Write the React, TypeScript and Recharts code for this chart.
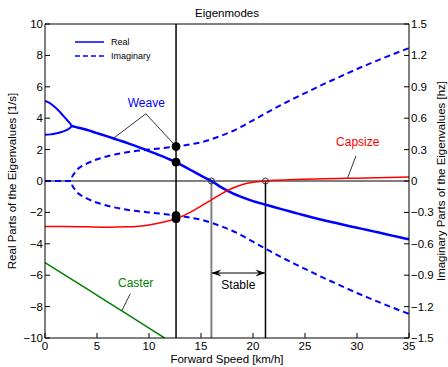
import {
  ComposedChart,
  Line,
  XAxis,
  YAxis,
  ReferenceLine,
  ReferenceDot,
  Legend,
} from 'recharts';

const speedTicks = [0, 5, 10, 15, 20, 25, 30, 35];
const realTicks = [-10, -8, -6, -4, -2, 0, 2, 4, 6, 8, 10];
const imagTicks = [-1.5, -1.2, -0.9, -0.6, -0.3, 0, 0.3, 0.6, 0.9, 1.2, 1.5];

// weave, real part: two real roots before they merge (~2.6 km/h)
const weaveSplitSpeeds = [0, 0.5, 1, 1.5, 2, 2.3, 2.45, 2.56];
const weaveSplitUpper = [5.1, 4.95, 4.68, 4.35, 3.97, 3.75, 3.63, 3.5];
const weaveSplitLower = [2.95, 2.97, 3.03, 3.1, 3.22, 3.33, 3.4, 3.5];

const weaveSpeeds = [2.56, 3, 4, 5, 6, 7, 8, 9, 10, 11, 12, 12.6, 13, 14, 15, 16, 17, 18, 19, 20, 21, 22, 23, 24, 25, 26, 27, 28, 29, 30, 31, 32, 33, 34, 35];
const weaveReal = [3.5, 3.43, 3.26, 3.05, 2.84, 2.62, 2.4, 2.16, 1.91, 1.65, 1.37, 1.2, 1.06, 0.7, 0.34, 0, -0.42, -0.77, -1.04, -1.28, -1.47, -1.66, -1.84, -2.02, -2.2, -2.37, -2.53, -2.68, -2.83, -2.98, -3.12, -3.27, -3.42, -3.57, -3.72];

// weave, imaginary part [hz] (the lower branch is its conjugate)
const imagSpeeds = [0, 1, 2, 2.56, 2.62, 2.8, 3.05, 3.5, 4, 4.65, 5.5, 6.57, 7.5, 8.5, 10, 11, 12, 12.6, 13, 14, 15, 16, 17, 18, 19, 20, 21, 22, 23, 24, 25, 26, 27, 28, 29, 30, 31, 32, 33, 34, 35];
const weaveImag = [0, 0, 0, 0, 0.04, 0.07, 0.105, 0.14, 0.165, 0.195, 0.222, 0.25, 0.268, 0.283, 0.3, 0.31, 0.322, 0.33, 0.335, 0.35, 0.37, 0.4, 0.435, 0.475, 0.525, 0.58, 0.635, 0.69, 0.742, 0.792, 0.84, 0.888, 0.935, 0.98, 1.025, 1.07, 1.112, 1.153, 1.193, 1.232, 1.27];

const capsizeSpeeds = [0, 2, 4, 6, 8, 9, 10, 11, 12, 12.6, 13, 14, 15, 16, 17, 18, 19, 20, 21.2, 22, 23, 25, 27, 30, 33, 35];
const capsizeReal = [-2.9, -2.9, -2.92, -2.94, -2.92, -2.88, -2.8, -2.68, -2.52, -2.4, -2.3, -1.98, -1.6, -1.2, -0.8, -0.46, -0.22, -0.08, 0, 0.04, 0.07, 0.11, 0.14, 0.18, 0.22, 0.25];

const casterSpeeds = [0, 2, 4, 6, 8, 10, 11.5];
const casterReal = [-5.2, -6.03, -6.86, -7.7, -8.53, -9.37, -10];

// marked speeds
const markSpeed = 12.6;
const markWeaveReal = 1.2;
const markWeaveImag = 0.33;
const markCapsize = -2.4;
const weaveSpeed = 16.0;
const capsizeSpeed = 21.2;

const pts = (xs: number[], ys: number[]) => xs.map((x, i) => ({ x, y: ys[i] }));

const weaveUpperPts = pts(weaveSplitSpeeds, weaveSplitUpper);
const weaveLowerPts = pts(weaveSplitSpeeds, weaveSplitLower);
const weavePts = pts(weaveSpeeds, weaveReal);
const imagUpPts = pts(imagSpeeds, weaveImag);
const imagDownPts = pts(imagSpeeds, weaveImag.map((v) => -v));
const capsizePts = pts(capsizeSpeeds, capsizeReal);
const casterPts = pts(casterSpeeds, casterReal);

const BLUE = '#0000ff';
const RED = '#ff0000';
const GREEN = '#008000';
const FS = 11.5;

const minus = (v: number, digits = 0) => (v === 0 ? '0' : v.toFixed(digits).replace('-', '\u2212'));

const textShape = (txt: string, color: string, size = 12) => (p: any) => (
  <text x={p.cx} y={p.cy} fill={color} fontSize={size} textAnchor="middle" dominantBaseline="central">
    {txt}
  </text>
);

const arrowHead = (dir: number) => (p: any) => {
  const { cx, cy } = p;
  const L = 10;
  const H = 3.5;
  return (
    <path
      d={`M${cx},${cy} L${cx - dir * L},${cy - H} L${cx - dir * L * 0.65},${cy} L${cx - dir * L},${cy + H} Z`}
      fill="#000"
    />
  );
};

const LegendBox = () => (
  <div style={{ fontSize: 9, lineHeight: '14px', color: '#000' }}>
    <div style={{ display: 'flex', alignItems: 'center' }}>
      <svg width={36} height={14}>
        <line x1={0} y1={7} x2={29} y2={7} stroke={BLUE} strokeWidth={1.5} />
      </svg>
      <span>Real</span>
    </div>
    <div style={{ display: 'flex', alignItems: 'center' }}>
      <svg width={36} height={14}>
        <line x1={0} y1={7} x2={29} y2={7} stroke={BLUE} strokeWidth={1.5} strokeDasharray="5 3" />
      </svg>
      <span>Imaginary</span>
    </div>
  </div>
);

export default function App() {
  return (
    <div style={{ position: 'absolute', left: 0, top: 0, fontFamily: '"Liberation Sans", Arial, sans-serif' }}>
      <ComposedChart width={448} height={367} margin={{ top: 0, right: 0, bottom: 0, left: 0 }}>
        <XAxis
          xAxisId="bottom"
          type="number"
          dataKey="x"
          domain={[0, 35]}
          ticks={speedTicks}
          allowDataOverflow
          height={29}
          tickSize={-5}
          tickMargin={9}
          stroke="#000"
          tick={{ fill: '#000', fontSize: FS }}
          label={(p: any) => (
            <text x={p.viewBox.x + p.viewBox.width / 2} y={363} textAnchor="middle" fontSize={FS} fill="#000">
              Forward Speed [km/h]
            </text>
          )}
        />
        <XAxis
          xAxisId="top"
          orientation="top"
          type="number"
          dataKey="x"
          domain={[0, 35]}
          ticks={speedTicks}
          height={24}
          tickSize={-5}
          tickFormatter={() => ''}
          stroke="#000"
          label={(p: any) => (
            <text x={p.viewBox.x + p.viewBox.width / 2} y={17} textAnchor="middle" fontSize={FS} fill="#000">
              Eigenmodes
            </text>
          )}
        />
        <YAxis
          yAxisId="left"
          type="number"
          domain={[-10, 10]}
          ticks={realTicks}
          allowDataOverflow
          width={45}
          tickSize={-5}
          tickMargin={7}
          stroke="#000"
          tick={{ fill: '#000', fontSize: FS }}
          tickFormatter={(v: number) => minus(v)}
          label={(p: any) => {
            const cy = p.viewBox.y + p.viewBox.height / 2;
            return (
              <text x={12} y={cy} transform={`rotate(-90 12 ${cy})`} textAnchor="middle" dominantBaseline="central" fontSize={FS} fill="#000">
                Real Parts of the Eigenvalues [1/s]
              </text>
            );
          }}
        />
        <YAxis
          yAxisId="right"
          orientation="right"
          type="number"
          domain={[-1.5, 1.5]}
          ticks={imagTicks}
          allowDataOverflow
          width={39}
          tickSize={-5}
          tickMargin={7}
          stroke="#000"
          tick={{ fill: '#000', fontSize: FS }}
          tickFormatter={(v: number) => minus(v, 1)}
          label={(p: any) => {
            const cy = p.viewBox.y + p.viewBox.height / 2;
            return (
              <text x={441} y={cy} transform={`rotate(-90 441 ${cy})`} textAnchor="middle" dominantBaseline="central" fontSize={FS} fill="#000">
                Imaginary Parts of the Eigenvalues [hz]
              </text>
            );
          }}
        />

        <Legend
          layout="vertical"
          align="center"
          verticalAlign="middle"
          content={() => <LegendBox />}
          wrapperStyle={{ left: 75, top: 35, width: 110 }}
        />

        {/* reference lines */}
        <ReferenceLine xAxisId="bottom" yAxisId="left" y={0} stroke="#000" strokeWidth={1} />
        <ReferenceLine xAxisId="bottom" yAxisId="left" x={markSpeed} stroke="#000" strokeWidth={1.5} />
        <ReferenceLine
          xAxisId="bottom"
          yAxisId="left"
          segment={[{ x: weaveSpeed, y: 0 }, { x: weaveSpeed, y: -10 }]}
          stroke="#808080"
          strokeWidth={2}
        />
        <ReferenceLine
          xAxisId="bottom"
          yAxisId="left"
          segment={[{ x: capsizeSpeed, y: 0 }, { x: capsizeSpeed, y: -10 }]}
          stroke="#000"
          strokeWidth={1.5}
        />

        {/* series */}
        <Line xAxisId="bottom" yAxisId="right" data={imagUpPts} dataKey="y" type="monotone" stroke={BLUE} strokeWidth={2} strokeDasharray="6 4" dot={false} isAnimationActive={false} />
        <Line xAxisId="bottom" yAxisId="right" data={imagDownPts} dataKey="y" type="monotone" stroke={BLUE} strokeWidth={2} strokeDasharray="6 4" dot={false} isAnimationActive={false} />
        <Line xAxisId="bottom" yAxisId="left" data={casterPts} dataKey="y" type="linear" stroke={GREEN} strokeWidth={1.5} dot={false} isAnimationActive={false} />
        <Line xAxisId="bottom" yAxisId="left" data={weaveUpperPts} dataKey="y" type="monotone" stroke={BLUE} strokeWidth={2} dot={false} isAnimationActive={false} />
        <Line xAxisId="bottom" yAxisId="left" data={weaveLowerPts} dataKey="y" type="monotone" stroke={BLUE} strokeWidth={2} dot={false} isAnimationActive={false} />
        <Line xAxisId="bottom" yAxisId="left" data={weavePts} dataKey="y" type="monotone" stroke={BLUE} strokeWidth={2.5} dot={false} isAnimationActive={false} />
        <Line xAxisId="bottom" yAxisId="left" data={capsizePts} dataKey="y" type="monotone" stroke={RED} strokeWidth={1.5} dot={false} isAnimationActive={false} />

        {/* annotations */}
        <ReferenceLine xAxisId="bottom" yAxisId="left" segment={[{ x: 6.6, y: 2.73 }, { x: 9.7, y: 4.28 }]} stroke="#000" strokeWidth={0.8} />
        <ReferenceLine xAxisId="bottom" yAxisId="left" segment={[{ x: 9.7, y: 4.28 }, { x: markSpeed, y: 2.2 }]} stroke="#000" strokeWidth={0.8} />
        <ReferenceLine xAxisId="bottom" yAxisId="left" segment={[{ x: 29.9, y: 1.6 }, { x: 29.1, y: 0.2 }]} stroke="#000" strokeWidth={0.8} />
        <ReferenceLine xAxisId="bottom" yAxisId="left" segment={[{ x: 8.2, y: -7.18 }, { x: 7.4, y: -8.24 }]} stroke="#000" strokeWidth={0.8} />
        <ReferenceLine xAxisId="bottom" yAxisId="left" segment={[{ x: weaveSpeed, y: -5.86 }, { x: capsizeSpeed, y: -5.86 }]} stroke="#555" strokeWidth={1.5} />
        <ReferenceDot xAxisId="bottom" yAxisId="left" x={weaveSpeed} y={-5.86} shape={arrowHead(-1)} />
        <ReferenceDot xAxisId="bottom" yAxisId="left" x={capsizeSpeed} y={-5.86} shape={arrowHead(1)} />

        <ReferenceDot xAxisId="bottom" yAxisId="left" x={9.74} y={4.94} shape={textShape('Weave', BLUE)} />
        <ReferenceDot xAxisId="bottom" yAxisId="left" x={30.07} y={2.51} shape={textShape('Capsize', RED)} />
        <ReferenceDot xAxisId="bottom" yAxisId="left" x={8.72} y={-6.49} shape={textShape('Caster', GREEN)} />
        <ReferenceDot xAxisId="bottom" yAxisId="left" x={18.59} y={-6.65} shape={textShape('Stable', '#000')} />

        {/* marker dots */}
        <ReferenceDot xAxisId="bottom" yAxisId="right" x={markSpeed} y={markWeaveImag} r={4} fill="#000" stroke="#000" />
        <ReferenceDot xAxisId="bottom" yAxisId="right" x={markSpeed} y={-markWeaveImag} r={4} fill="#000" stroke="#000" />
        <ReferenceDot xAxisId="bottom" yAxisId="left" x={markSpeed} y={markWeaveReal} r={4} fill="#000" stroke="#000" />
        <ReferenceDot xAxisId="bottom" yAxisId="left" x={markSpeed} y={markCapsize} r={4} fill="#000" stroke="#000" />
        <ReferenceDot xAxisId="bottom" yAxisId="left" x={weaveSpeed} y={0} r={3} fill="none" stroke="#333" strokeWidth={1} />
        <ReferenceDot xAxisId="bottom" yAxisId="left" x={capsizeSpeed} y={0} r={3} fill="none" stroke="#333" strokeWidth={1} />
      </ComposedChart>
    </div>
  );
}
